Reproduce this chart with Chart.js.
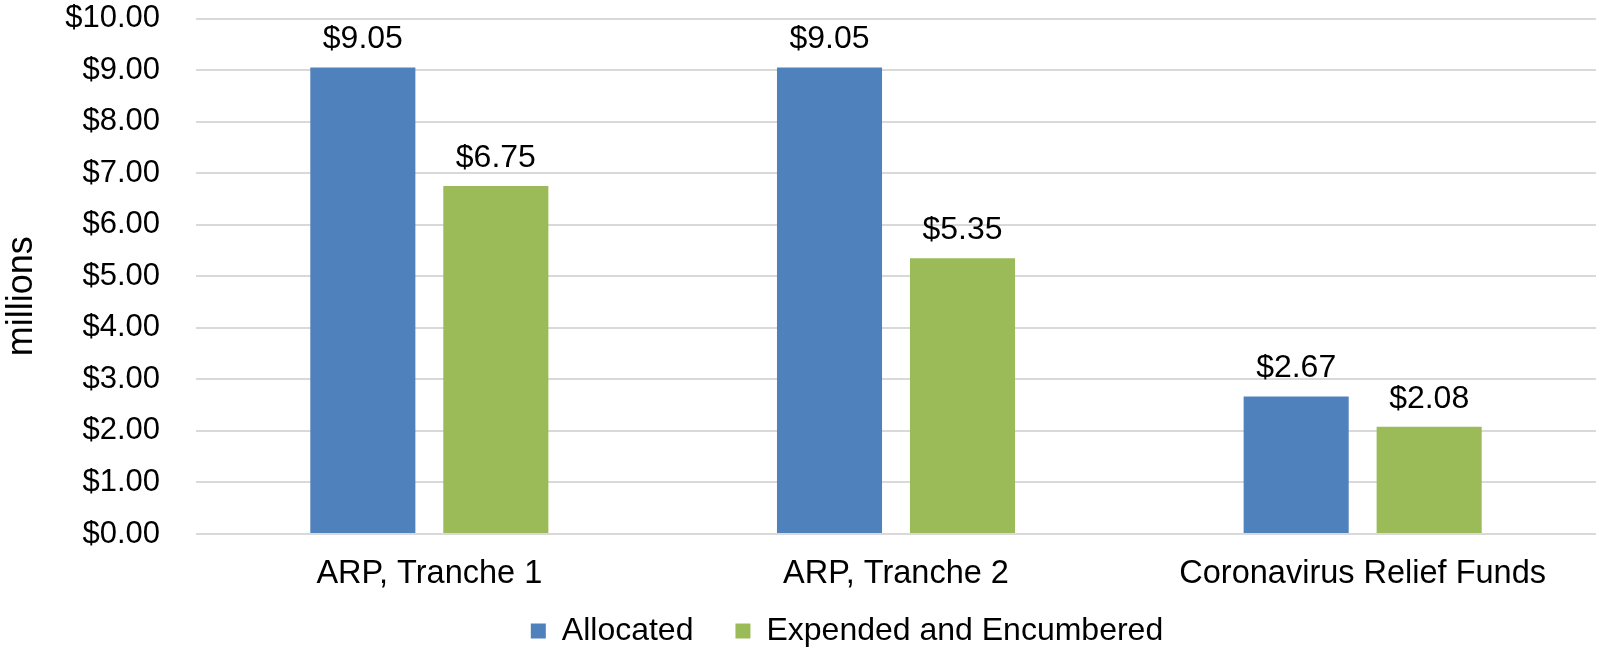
<!DOCTYPE html>
<html>
<head>
<meta charset="utf-8">
<script src="https://cdn.jsdelivr.net/npm/chart.js@4.4.1/dist/chart.umd.min.js"></script>
<style>
  html, body { margin: 0; padding: 0; background: #fff; }
  #wrap { width: 1598px; height: 649px; }
</style>
</head>
<body>
<div id="wrap"><canvas id="chart"></canvas></div>
<script>
// values in millions of dollars
const categories = ['ARP, Tranche 1', 'ARP, Tranche 2', 'Coronavirus Relief Funds'];
const seriesNames = ['Allocated', 'Expended and Encumbered'];
const allocated = [9.05, 9.05, 2.67];
const expended = [6.75, 5.35, 2.08];
const yMin = 0;
const yMax = 10;
const yStep = 1;

const FONT = '"Liberation Sans", Arial, sans-serif';
const money = v => '$' + Number(v).toFixed(2);

// value labels above bars + nudge legend to where the original sits
const barLabels = {
    id: 'barLabels',
    afterLayout(chart) {
        const lg = chart.legend;
        lg.left += 49;
        lg.right += 49;
        lg.top -= 21;
        lg.bottom = chart.height;
    },
    afterDatasetsDraw(chart) {
        const ctx = chart.ctx;
        ctx.save();
        ctx.font = '32px ' + FONT;
        ctx.fillStyle = '#000';
        ctx.textAlign = 'center';
        ctx.textBaseline = 'middle';
        chart.data.datasets.forEach((ds, i) => {
            chart.getDatasetMeta(i).data.forEach((bar, j) => {
                ctx.fillText(money(ds.data[j]), bar.x, bar.y - 28);
            });
        });
        ctx.restore();
    }
};

new Chart(document.getElementById('chart'), {
    type: 'bar',
    data: {
        labels: categories,
        datasets: [
            { label: seriesNames[0], data: allocated, backgroundColor: '#4f81bd' },
            { label: seriesNames[1], data: expended, backgroundColor: '#9bbb59' }
        ]
    },
    options: {
        responsive: true,
        maintainAspectRatio: false,
        animation: false,
        devicePixelRatio: 1,
        categoryPercentage: 0.57,
        barPercentage: 0.79,
        layout: { padding: { top: 0, right: 2, bottom: 0, left: 0 } },
        plugins: {
            tooltip: { enabled: false },
            legend: {
                position: 'bottom',
                maxHeight: 55,
                labels: {
                    color: '#000',
                    font: { family: FONT, size: 32 },
                    boxWidth: 15,
                    boxHeight: 15,
                    padding: 42
                }
            }
        },
        scales: {
            x: {
                grid: { display: false, drawTicks: false },
                border: { display: false },
                ticks: { color: '#000', font: { family: FONT, size: 32.5 }, padding: 21, maxRotation: 0 },
                afterFit(scale) { scale.height = 60; }
            },
            y: {
                min: yMin,
                max: yMax,
                ticks: {
                    stepSize: yStep,
                    color: '#000',
                    font: { family: FONT, size: 31 },
                    padding: 0,
                    callback: v => money(v)
                },
                grid: { color: '#d9d9d9', lineWidth: 2, drawTicks: true, tickLength: 36, tickColor: 'rgba(0,0,0,0)' },
                border: { display: false },
                title: {
                    display: true,
                    text: 'millions    ',
                    color: '#000',
                    font: { family: FONT, size: 36 },
                    padding: { top: 0, bottom: 0 }
                },
                afterFit(scale) { scale.width = 196; }
            }
        }
    },
    plugins: [barLabels]
});
</script>
</body>
</html>
